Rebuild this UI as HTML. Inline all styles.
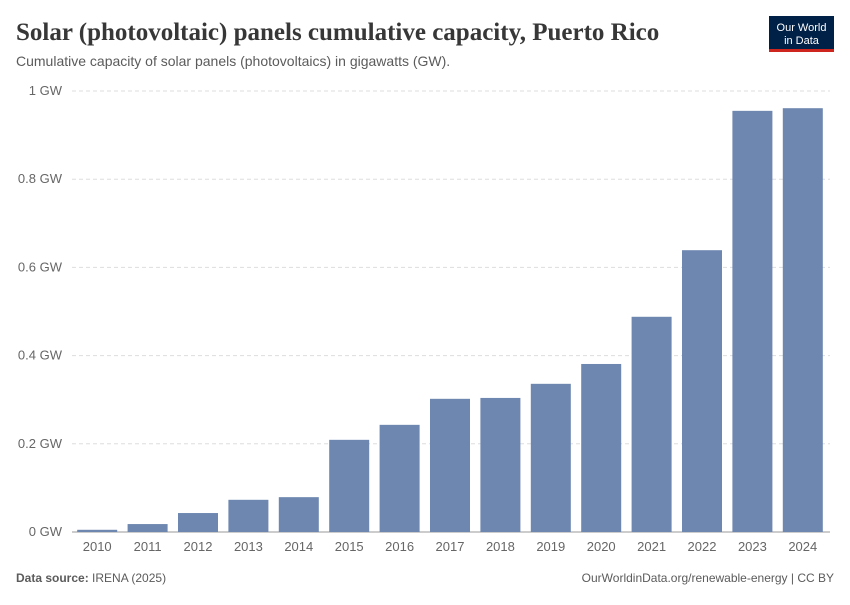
<!DOCTYPE html>
<html><head><meta charset="utf-8"><style>
body{margin:0;background:#fff;width:850px;height:600px;overflow:hidden;font-family:"Liberation Sans",sans-serif;}
</style></head><body>
<svg width="850" height="600" xmlns="http://www.w3.org/2000/svg">
<text x="16" y="40" font-family="Liberation Serif,serif" font-weight="bold" font-size="25" fill="#373737">Solar (photovoltaic) panels cumulative capacity, Puerto Rico</text>
<text x="16" y="66" font-size="14" fill="#5b5b5b">Cumulative capacity of solar panels (photovoltaics) in gigawatts (GW).</text>
<g>
<rect x="769" y="16" width="65" height="36" fill="#002147"/>
<rect x="769" y="49" width="65" height="3" fill="#ce261e"/>
<text x="801.5" y="31" font-size="11" fill="#fff" text-anchor="middle">Our World</text>
<text x="801.5" y="44" font-size="11" fill="#fff" text-anchor="middle">in Data</text>
</g>
<g id="grid"></g><g id="bars"></g><g id="xlabels"></g>
<text x="16" y="582" font-size="12" fill="#5b5b5b"><tspan font-weight="bold">Data source:</tspan> IRENA (2025)</text>
<text x="834" y="582" font-size="12" fill="#5b5b5b" text-anchor="end">OurWorldinData.org/renewable-energy | CC BY</text>
</svg>
<script>
const years=["2010","2011","2012","2013","2014","2015","2016","2017","2018","2019","2020","2021","2022","2023","2024"];
const values=[0.005,0.018,0.043,0.073,0.079,0.209,0.243,0.302,0.304,0.336,0.381,0.488,0.639,0.955,0.961];
const ticks=[0,0.2,0.4,0.6,0.8,1];
const tickLabels=["0 GW","0.2 GW","0.4 GW","0.6 GW","0.8 GW","1 GW"];
const NS="http://www.w3.org/2000/svg";
const x0=72,x1=828,yb=532,yt=91;
const y=v=>yb-(yb-yt)*v;
const band=(x1-x0)/years.length;
const xc=i=>x0+band*(i+0.5);
const grid=document.getElementById('grid'),bars=document.getElementById('bars'),xl=document.getElementById('xlabels');
ticks.forEach((t,i)=>{
 const l=document.createElementNS(NS,'line');
 l.setAttribute('x1',x0);l.setAttribute('x2',830);l.setAttribute('y1',y(t));l.setAttribute('y2',y(t));
 l.setAttribute('stroke',i==0?'#999':'#ddd');if(i>0)l.setAttribute('stroke-dasharray','4,3');
 
 
 grid.appendChild(l);
 const tx=document.createElementNS(NS,'text');
 tx.setAttribute('x',x0-10);tx.setAttribute('y',y(t)+4);tx.setAttribute('text-anchor','end');
 tx.setAttribute('font-size','13');tx.setAttribute('fill','#666');tx.textContent=tickLabels[i];
 
 
 grid.appendChild(tx);
});
values.forEach((v,i)=>{
 const r=document.createElementNS(NS,'rect');
 r.setAttribute('x',xc(i)-20);r.setAttribute('width',40);r.setAttribute('y',y(v));r.setAttribute('height',yb-y(v));
 r.setAttribute('fill','#6d87b0');
 
 
 bars.appendChild(r);
 const tx=document.createElementNS(NS,'text');
 tx.setAttribute('x',xc(i));tx.setAttribute('y',551);tx.setAttribute('text-anchor','middle');
 tx.setAttribute('font-size','13');tx.setAttribute('fill','#666');tx.textContent=years[i];
 
 
 xl.appendChild(tx);
});
</script>
</body></html>
